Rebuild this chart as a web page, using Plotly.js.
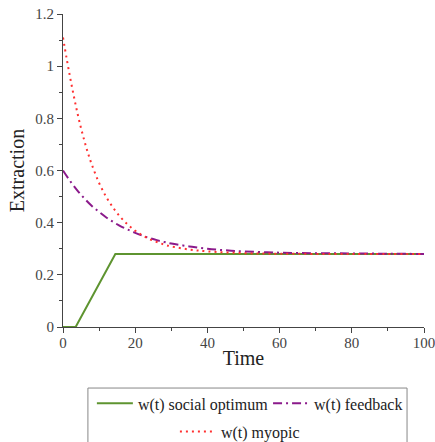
<!DOCTYPE html>
<html>
<head>
<meta charset="utf-8">
<script src="https://cdn.plot.ly/plotly-3.0.1.min.js"></script>
<style>html,body{margin:0;padding:0;background:#fff;}#chart{width:435px;height:442px;}</style>
</head>
<body>
<div id="chart"></div>
<script>
// Data
const tSocial = [0, 3.5, 14.5, 100];
const wSocial = [0, 0, 0.28, 0.28];

const tFeedback = [0, 2, 4, 6, 8, 10, 12, 14, 16, 18, 20, 22, 24, 26, 28, 30, 35, 40, 45, 50, 60, 70, 80, 90, 100];
const wFeedback = [0.600, 0.559, 0.523, 0.492, 0.464, 0.441, 0.420, 0.402, 0.386, 0.373, 0.361, 0.350, 0.341, 0.333, 0.326, 0.320, 0.309, 0.300, 0.294, 0.290, 0.285, 0.283, 0.282, 0.281, 0.280];

const tMyopic = [0, 1, 2, 3, 4, 5, 6, 7, 8, 10, 12, 14, 16, 18, 20, 22, 24, 26, 28, 30, 35, 40, 50, 60, 80, 100];
const wMyopic = [1.110, 1.030, 0.955, 0.885, 0.820, 0.762, 0.710, 0.663, 0.622, 0.552, 0.498, 0.455, 0.420, 0.392, 0.369, 0.351, 0.337, 0.326, 0.316, 0.309, 0.297, 0.290, 0.283, 0.281, 0.280, 0.280];

const names = ["w(t) social optimum", "w(t) feedback", "w(t) myopic"];
const xTickVals = [0, 20, 40, 60, 80, 100];
const yTickVals = [0, 0.2, 0.4, 0.6, 0.8, 1, 1.2];
const yTickText = ["0", "0.2", "0.4", "0.6", "0.8", "1", "1.2"];

const serif = "Liberation Serif";

const traces = [
  {x: tSocial, y: wSocial, mode: "lines", name: names[0],
   line: {color: "#5e9430", width: 2}, legend: "legend"},
  {x: tFeedback, y: wFeedback, mode: "lines", name: names[1],
   line: {color: "#8b1a8b", width: 2, dash: "9px,4px,2px,4px", shape: "spline"}, legend: "legend3"},
  {x: tMyopic, y: wMyopic, mode: "lines", name: names[2],
   line: {color: "#ff3030", width: 2, dash: "2px,4px", shape: "spline"}, legend: "legend2"}
];

const axisCommon = {
  showgrid: false, zeroline: false, showline: true, linecolor: "#444", linewidth: 1,
  ticks: "outside", ticklen: 5, tickcolor: "#444", ticklabeloverflow: "allow",
  tickfont: {family: serif, size: 15, color: "#444"}
};

const legendCommon = {
  orientation: "h", xanchor: "left", yanchor: "top",
  font: {family: serif, size: 16, color: "#222"}, itemwidth: 36,
  bgcolor: "rgba(0,0,0,0)", borderwidth: 0
};

const layout = {
  width: 435, height: 442,
  margin: {l: 63, r: 11, t: 14, b: 115, autoexpand: false},
  paper_bgcolor: "#fff", plot_bgcolor: "#fff",
  font: {family: serif},
  showlegend: true,
  xaxis: Object.assign({}, axisCommon, {
    range: [0, 100], tickvals: xTickVals, ticklabelstandoff: -3,
    minor: {dtick: 10, tick0: 0, ticks: "outside", ticklen: 3, tickcolor: "#444"},
    title: {text: "Time", font: {family: serif, size: 20, color: "#222"}, standoff: 0}
  }),
  yaxis: Object.assign({}, axisCommon, {
    range: [0, 1.2], tickvals: yTickVals, ticktext: yTickText,
    minor: {dtick: 0.1, tick0: 0, ticks: "outside", ticklen: 3, tickcolor: "#444"},
    title: {text: "Extraction", font: {family: serif, size: 20, color: "#222"}, standoff: 5}
  }),
  legend: Object.assign({}, legendCommon, {x: 0.08, y: -0.19}),
  legend3: Object.assign({}, legendCommon, {x: 0.568, y: -0.19}),
  legend2: Object.assign({}, legendCommon, {x: 0.31, y: -0.28}),
  shapes: [{
    type: "rect", xref: "paper", yref: "paper",
    x0: 0.069, x1: 0.953, y0: -0.195, y1: -0.45,
    line: {color: "#888", width: 1}, fillcolor: "rgba(0,0,0,0)"
  }]
};

Plotly.newPlot("chart", traces, layout, {displayModeBar: false, staticPlot: true});
</script>
</body>
</html>
